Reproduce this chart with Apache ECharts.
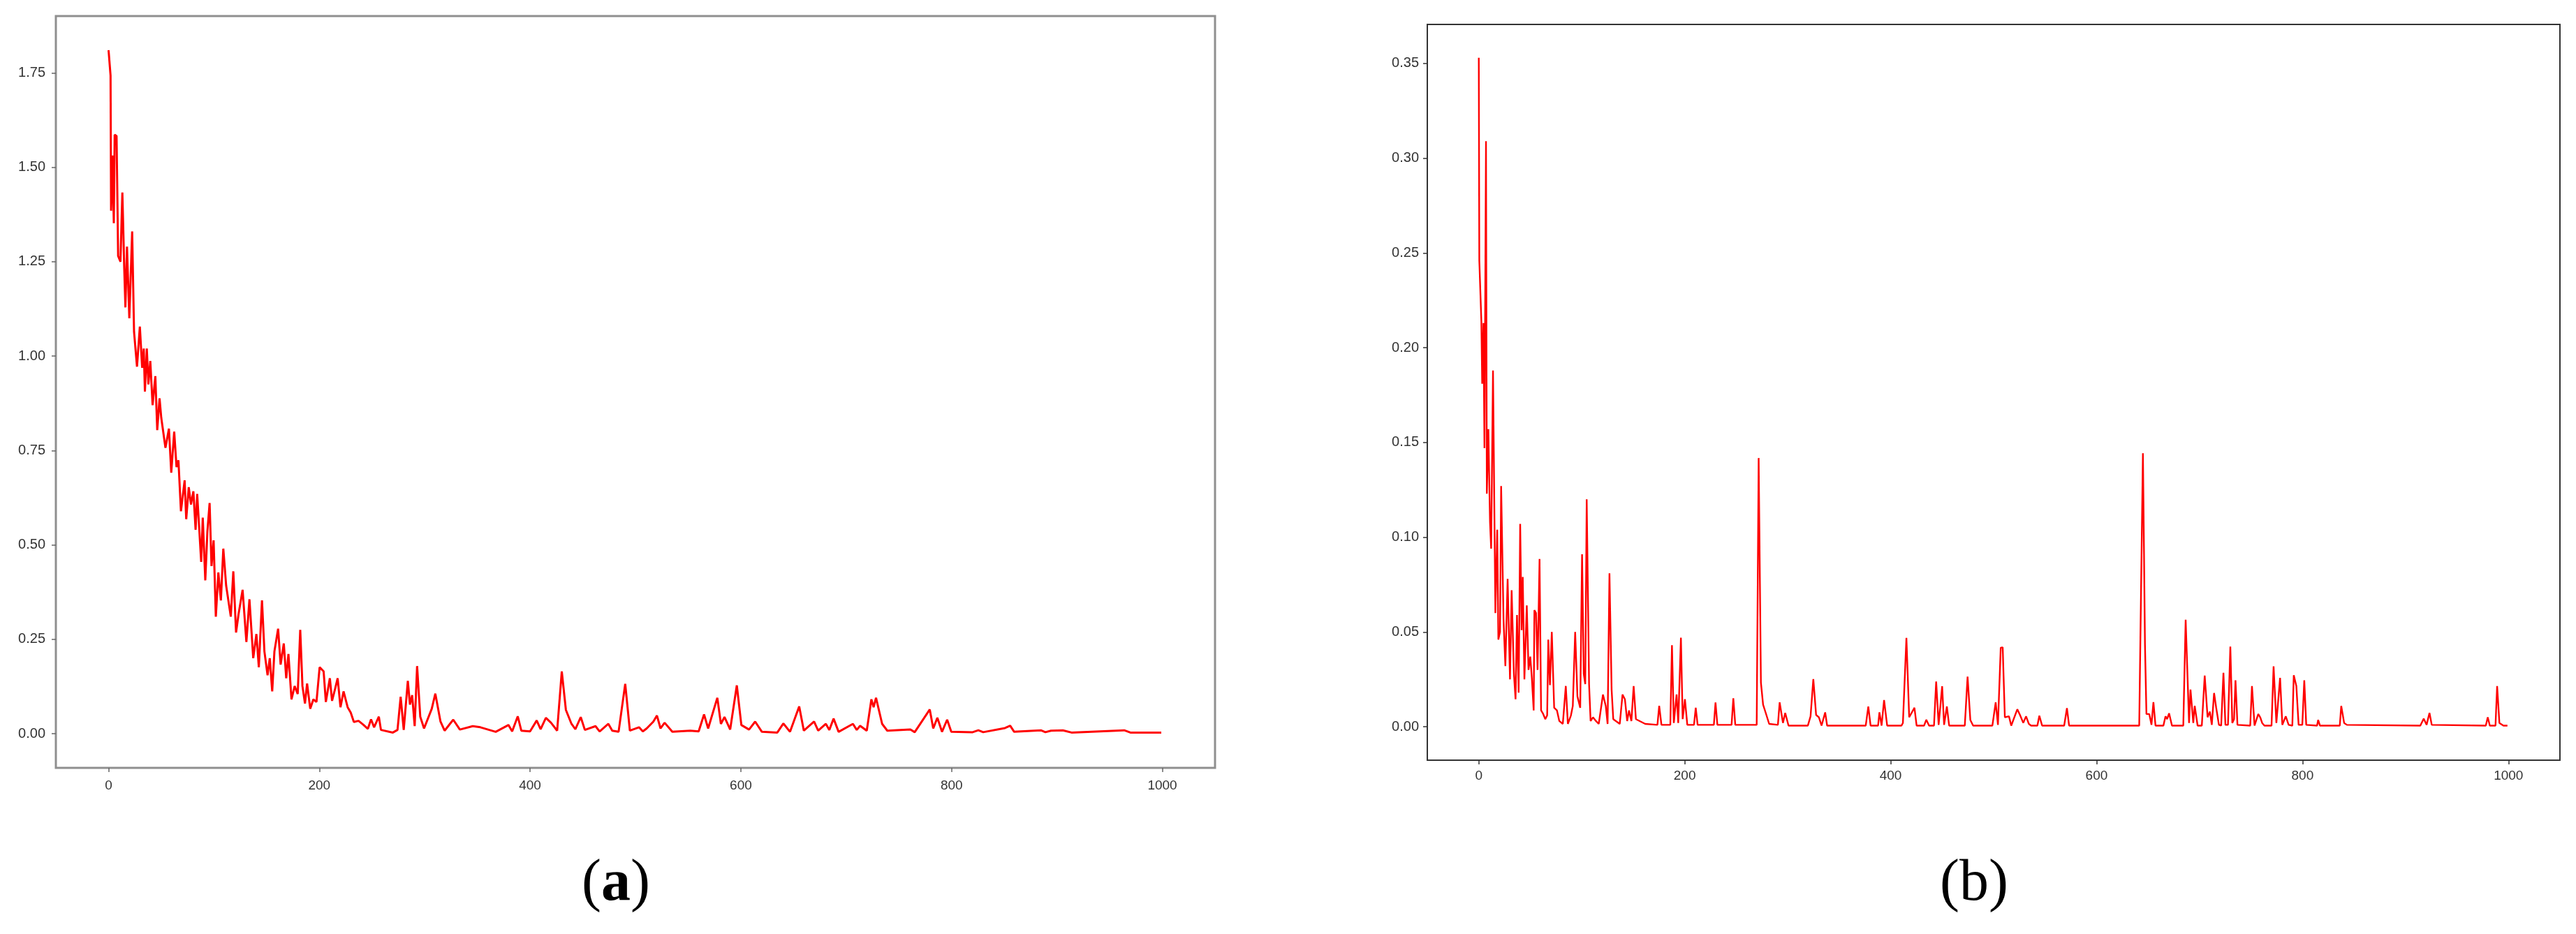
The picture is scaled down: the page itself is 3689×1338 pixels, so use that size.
<!DOCTYPE html>
<html>
<head>
<meta charset="utf-8">
<script src="https://cdn.jsdelivr.net/npm/echarts@6/dist/echarts.min.js"></script>
<style>
html,body{margin:0;padding:0;background:#fff;}
#c{width:3689px;height:1338px;}
</style>
</head>
<body>
<div id="c"></div>
<script>
// ---------- data ----------
const xTicks = [0, 200, 400, 600, 800, 1000];
const yTicksA = [0, 0.25, 0.5, 0.75, 1.0, 1.25, 1.5, 1.75];
const yTicksB = [0, 0.05, 0.10, 0.15, 0.20, 0.25, 0.30, 0.35];
const captionA = 'a';
const captionB = 'b';

const stepsA = [0,1.9,2.4,3.6,5.0,5.8,7.6,9.1,11.3,13.1,14.9,16.0,17.5,19.7,22.4,24.2,27.0,29.7,31.9,33.4,34.5,36.3,37.8,39.6,41.8,44.4,46.2,48.4,50.0,54.0,57.3,59.5,62.3,64.5,66.3,68.7,72.2,73.7,76.1,78.2,80.5,82.6,84.1,87.9,89.4,91.8,93.8,95.9,97.7,99.7,101.8,104.2,106.6,108.9,111.6,116.0,118.4,121.0,123.4,127.2,130.8,133.7,137.3,140.3,142.6,145.6,147.9,150.9,153.0,155.3,157.4,160.9,163.3,166.3,168.6,170.7,173.6,176.6,179.5,181.9,184.0,186.4,188.4,191.4,194.4,197.3,200.3,204.1,206.2,210.0,212.1,215.0,217.4,220.1,223.0,226.9,229.8,232.8,237.2,241.7,246.1,249.1,252.0,256.5,258.5,269.8,274.2,277.2,280.1,284.0,286.0,288.1,290.5,292.8,295.8,299.4,306.7,310.1,315.0,318.9,327.1,333.4,345.6,352.8,367.4,379.5,383.0,388.3,391.7,400.0,406.3,410.0,415.0,419.9,425.7,430.1,434.0,439.3,443.0,448.1,452.0,462.1,466.0,474.3,478.0,484.0,490.3,494.7,503.4,507.0,510.7,517.0,520.4,523.8,527.7,535.0,552.0,560.0,565.1,569.0,577.7,581.1,584.5,589.9,596.2,600.5,607.8,613.6,620.0,634.6,640.4,646.7,655.4,659.8,669.5,673.4,680.7,684.0,688.0,692.8,706.4,710.0,713.2,719.5,723.9,726.0,728.3,734.1,739.0,760.9,765.0,779.3,782.6,786.5,790.9,795.8,799.7,820.0,825.4,830.0,850.7,855.6,859.4,884.7,889.0,894.4,905.6,913.8,963.8,969.7,999];
const lossA = [1.810,1.743,1.385,1.531,1.352,1.586,1.583,1.265,1.250,1.433,1.232,1.129,1.290,1.100,1.330,1.064,0.972,1.078,0.969,1.020,0.906,1.020,0.925,0.987,0.870,0.947,0.804,0.888,0.837,0.757,0.808,0.691,0.800,0.706,0.724,0.589,0.671,0.568,0.653,0.607,0.642,0.540,0.635,0.455,0.572,0.406,0.536,0.611,0.444,0.512,0.310,0.427,0.353,0.490,0.392,0.310,0.430,0.268,0.317,0.381,0.243,0.356,0.200,0.264,0.176,0.353,0.218,0.155,0.200,0.112,0.218,0.278,0.183,0.239,0.147,0.211,0.091,0.126,0.105,0.275,0.126,0.080,0.133,0.066,0.091,0.084,0.176,0.165,0.084,0.147,0.087,0.119,0.147,0.070,0.112,0.070,0.056,0.031,0.034,0.024,0.013,0.038,0.017,0.045,0.010,0.003,0.010,0.098,0.010,0.140,0.077,0.102,0.020,0.179,0.045,0.014,0.066,0.106,0.032,0.008,0.037,0.011,0.020,0.017,0.005,0.023,0.006,0.046,0.008,0.006,0.035,0.012,0.042,0.029,0.008,0.165,0.063,0.026,0.012,0.044,0.010,0.020,0.006,0.026,0.008,0.005,0.132,0.008,0.017,0.006,0.014,0.032,0.048,0.014,0.029,0.005,0.008,0.006,0.051,0.014,0.095,0.026,0.044,0.011,0.128,0.023,0.011,0.032,0.005,0.003,0.027,0.005,0.072,0.008,0.032,0.008,0.026,0.010,0.040,0.005,0.026,0.010,0.021,0.008,0.091,0.070,0.095,0.026,0.008,0.011,0.004,0.064,0.014,0.042,0.005,0.037,0.005,0.004,0.009,0.004,0.015,0.021,0.005,0.009,0.004,0.008,0.009,0.003,0.009,0.003,0.003];

const stepsB = [0,0.5,2.5,3.3,4.5,5.5,7.0,7.8,9.3,10.9,12.0,13.8,16.1,17.9,19.0,20.6,21.7,24.0,25.8,28.0,30.3,31.9,34.1,35.7,37.1,38.7,40.2,41.6,42.7,44.3,46.6,48.3,50.0,51.5,53.3,54.0,55.6,57.1,59.0,60.5,62.3,64.6,66.4,67.5,69.1,70.9,73.2,75.9,78.2,81.6,84.5,86.5,89.5,91.3,93.6,95.8,98.5,100.3,101.9,103.4,104.8,107.1,108.6,110.9,113.8,116.5,120.6,123.3,125.1,126.9,129.0,130.6,136.9,139.6,141.9,144.1,145.9,148.2,150.4,152.6,161.6,173.5,175.2,177.4,186.0,187.6,189.4,192.1,193.7,196.3,198.0,200.2,202.5,209.0,210.7,212.5,228.3,229.9,231.7,245.5,247.2,249.1,269.9,271.8,274.0,276.1,279.3,282.0,290.5,292.2,295.4,297.6,300.8,319.6,322.2,324.9,327.6,330.3,332.9,336.4,338.3,375.8,378.3,380.5,387.8,389.1,391.2,393.6,396.6,410.5,411.9,415.3,418.0,423.1,425.2,432.5,434.6,437.3,442.1,444.2,446.6,450.0,451.9,454.6,456.8,472.0,474.7,477.4,480.1,498.8,502.0,504.2,506.9,508.8,510.9,514.9,517.1,523.0,525.6,528.8,531.5,534.2,536.4,542.5,544.4,547.1,568.5,571.2,573.3,641.4,645.0,647.0,648.4,651.2,653.3,655.2,657.2,664.9,666.9,668.5,670.4,673.2,684.2,686.5,689.8,691.2,693.9,695.3,698.1,702.2,705.0,707.8,710.0,711.9,714.1,716.1,718.8,721.0,723.2,725.1,727.6,729.9,731.8,733.5,734.9,736.8,749.2,750.9,753.4,757.0,758.9,760.8,763.0,769.9,771.9,774.6,778.2,780.4,783.7,786.5,790.1,791.5,794.0,796.2,799.8,801.7,803.6,814.1,815.2,816.9,836.2,837.6,840.4,843.1,914.4,917.7,920.5,923.3,925.5,978.0,979.9,981.9,987.4,989.0,991.2,995.1,999];
const lossB = [0.353,0.246,0.214,0.181,0.213,0.147,0.309,0.123,0.157,0.108,0.094,0.188,0.060,0.104,0.046,0.050,0.127,0.057,0.032,0.078,0.025,0.072,0.028,0.0145,0.059,0.018,0.107,0.051,0.079,0.025,0.064,0.030,0.037,0.026,0.0086,0.0615,0.060,0.030,0.0885,0.0086,0.007,0.004,0.006,0.046,0.022,0.050,0.010,0.0086,0.003,0.0015,0.0215,0.0015,0.006,0.011,0.050,0.016,0.010,0.091,0.028,0.0225,0.120,0.0225,0.003,0.005,0.003,0.0015,0.017,0.011,0.0015,0.081,0.0195,0.004,0.0015,0.017,0.0145,0.003,0.0086,0.003,0.0215,0.004,0.0015,0.001,0.011,0.001,0.001,0.043,0.002,0.017,0.002,0.047,0.004,0.0145,0.001,0.001,0.010,0.001,0.001,0.0128,0.001,0.001,0.015,0.001,0.001,0.1418,0.0233,0.0117,0.0062,0.0015,0.001,0.0129,0.002,0.0073,0.0006,0.0006,0.0055,0.0251,0.0062,0.005,0.0006,0.0076,0.0006,0.0006,0.0107,0.0006,0.0006,0.0076,0.0006,0.0141,0.0006,0.0006,0.002,0.0469,0.005,0.010,0.0006,0.0006,0.0037,0.0006,0.0006,0.0239,0.001,0.0214,0.001,0.0107,0.0006,0.0006,0.0264,0.0035,0.0006,0.0006,0.0129,0.001,0.0417,0.0419,0.005,0.0055,0.0006,0.0092,0.0062,0.002,0.0055,0.0015,0.0006,0.0006,0.0058,0.0006,0.0006,0.0098,0.0006,0.0006,0.1443,0.043,0.0067,0.0067,0.001,0.013,0.0006,0.0006,0.0055,0.004,0.0071,0.0006,0.0006,0.0565,0.002,0.0196,0.002,0.011,0.0006,0.0006,0.027,0.005,0.008,0.001,0.0178,0.0102,0.001,0.0006,0.0285,0.001,0.001,0.0423,0.002,0.004,0.0245,0.001,0.0006,0.0215,0.0006,0.0067,0.005,0.002,0.0006,0.0006,0.0319,0.002,0.0258,0.001,0.0055,0.001,0.0006,0.0272,0.0215,0.001,0.001,0.0245,0.001,0.0006,0.0036,0.0006,0.0006,0.011,0.002,0.001,0.0006,0.0043,0.001,0.0073,0.001,0.0006,0.005,0.0006,0.0006,0.0215,0.002,0.0006,0.0006];

// ---------- chart ----------
const chart = echarts.init(document.getElementById('c'), null, {renderer: 'canvas'});
const zip = (xs, ys) => xs.map((x, i) => [x, ys[i]]);
const sans = '"Liberation Sans", Arial, sans-serif';
const serif = '"Liberation Serif", "DejaVu Serif", serif';

function xAxisCfg(gi, col, margin) {
  return {
    type: 'value', gridIndex: gi, min: -50, max: 1050, position: 'bottom',
    axisLine: {show: false, onZero: false},
    axisTick: {show: true, inside: false, customValues: xTicks, length: 6, lineStyle: {color: col, width: 1.5}},
    axisLabel: {customValues: xTicks, margin: margin, color: '#333', fontSize: 19, fontFamily: sans,
      formatter: v => String(v)},
    splitLine: {show: false}
  };
}
function yAxisCfg(gi, ticks, mn, mx, col, margin) {
  return {
    type: 'value', gridIndex: gi, min: mn, max: mx, position: 'left',
    axisLine: {show: false, onZero: false},
    axisTick: {show: true, inside: false, customValues: ticks, length: 6, lineStyle: {color: col, width: 1.5}},
    axisLabel: {customValues: ticks, margin: margin, color: '#333', fontSize: 20, fontFamily: sans,
      formatter: v => v.toFixed(2)},
    splitLine: {show: false}
  };
}

chart.setOption({
  animation: false,
  backgroundColor: '#ffffff',
  grid: [
    {left: 80, top: 23, width: 1660, height: 1077, show: true, borderColor: '#8f8f8f', borderWidth: 3, backgroundColor: 'transparent'},
    {left: 2044, top: 35, width: 1622, height: 1054, show: true, borderColor: '#333', borderWidth: 2, backgroundColor: 'transparent'}
  ],
  xAxis: [xAxisCfg(0, '#666', 16), xAxisCfg(1, '#333', 13)],
  yAxis: [
    yAxisCfg(0, yTicksA, -0.0905, 1.9005, '#666', 15),
    yAxisCfg(1, yTicksB, -0.01765, 0.3706, '#333', 12)
  ],
  series: [
    {type: 'line', xAxisIndex: 0, yAxisIndex: 0, data: zip(stepsA, lossA), showSymbol: false,
      lineStyle: {color: '#ff0000', width: 3}, itemStyle: {color: '#ff0000'}},
    {type: 'line', xAxisIndex: 1, yAxisIndex: 1, data: zip(stepsB, lossB), showSymbol: false,
      lineStyle: {color: '#ff0000', width: 2.4}, itemStyle: {color: '#ff0000'}}
  ],
  graphic: [
    {type: 'text', x: 882, y: 1267, style: {text: '({b|' + captionA + '})', fill: '#000',
      fontSize: 84, fontFamily: serif, align: 'center', verticalAlign: 'middle',
      rich: {b: {fontSize: 84, fontFamily: serif, fontWeight: 'bold', fill: '#000'}}}},
    {type: 'text', x: 2827, y: 1267, style: {text: '(' + captionB + ')', fill: '#000',
      fontSize: 84, fontFamily: serif, align: 'center', verticalAlign: 'middle'}}
  ]
});
</script>
</body>
</html>
